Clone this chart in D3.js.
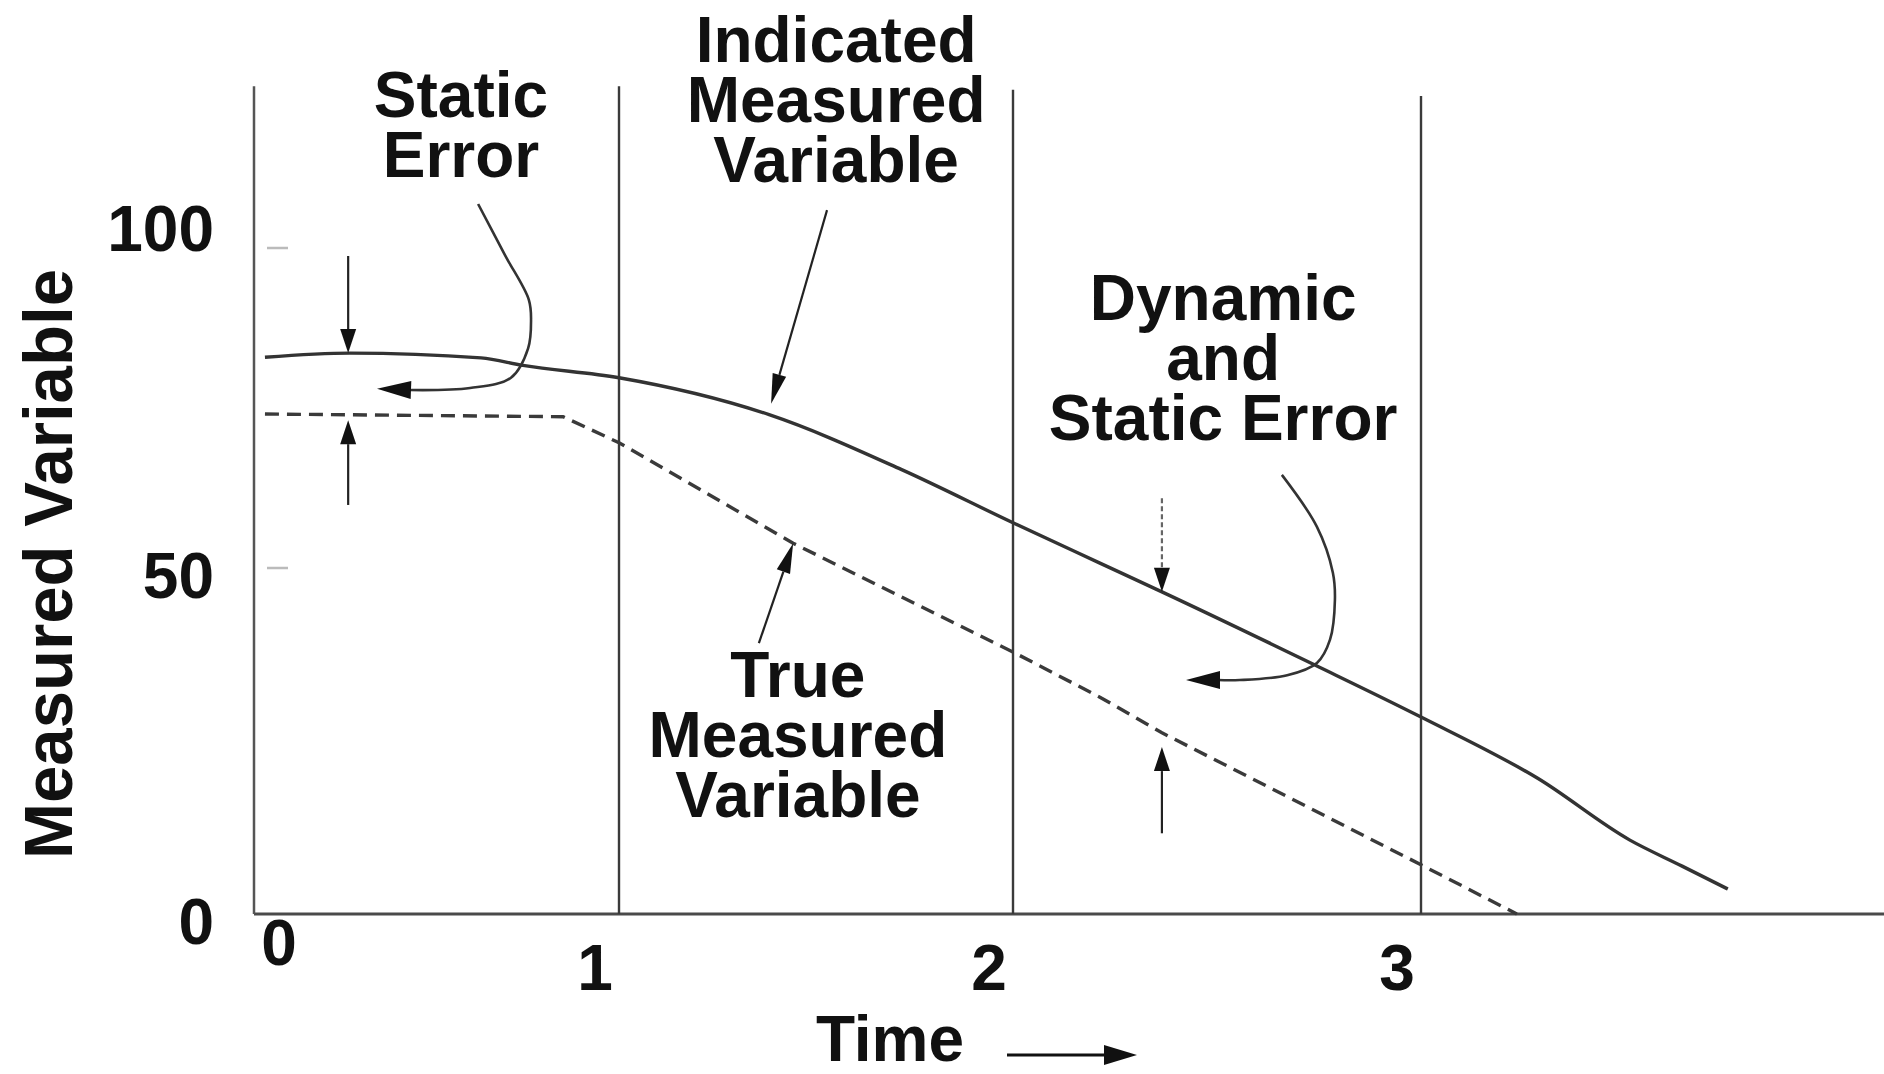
<!DOCTYPE html>
<html><head><meta charset="utf-8">
<script src="https://cdn.jsdelivr.net/npm/d3@7"></script>
<style>
html,body{margin:0;padding:0;background:#fff;}
svg{display:block;}
text{font-family:"Liberation Sans",Arial,Helvetica,sans-serif;font-weight:bold;fill:#111;}
</style>
</head><body><svg id="chart" width="1884" height="1074"></svg>
<script>
// ---------------- data ----------------
const timeTicks = [0, 1, 2, 3];
const timeTickLabels = ["0", "1", "2", "3"];
const valueTicks = [0, 50, 100];
const valueTickLabels = ["0", "50", "100"];
const gridTimes = [1, 2, 3];
const gridTops = [121, 120.5, 119.6];

const indicatedTime  = [0.03, 0.263, 0.622, 0.737, 1.0, 1.381, 1.716, 2.0, 2.213, 2.365, 2.74, 3.0, 3.287, 3.512, 3.64, 3.752];
const indicatedValue = [81.4, 82.0, 81.3, 80.2, 78.4, 73.0, 65.0, 57.2, 51.3, 47.1, 36.4, 28.8, 19.8, 10.8, 7.0, 3.65];

const trueTime  = [0.03, 0.847, 1.0, 1.442, 2.0, 2.213, 2.365, 3.0, 3.235];
const trueValue = [73.1, 72.7, 68.9, 54.2, 38.3, 31.7, 26.5, 7.2, 0];

// annotation arrows (time, value)
const staticErrorArrows  = [{t: 0.258, from: 96.2, to: 82.0}, {t: 0.258, from: 59.8, to: 72.2}];
const dynamicErrorArrows = [{t: 2.365, from: 60.8, to: 47.1, dotted: true}, {t: 2.365, from: 11.8, to: 24.4}];
const indicatedPointer = [[1.528, 102.9], [1.386, 74.6]];
const truePointer      = [[1.355, 39.6], [1.442, 54.2]];
const staticPointer  = [[0.614, 103.8], [0.688, 96.3], [0.753, 89.8], [0.759, 86.8], [0.751, 82.7], [0.704, 78.4], [0.592, 76.9], [0.427, 76.6]];
const staticTip      = [0.337, 76.8];
const dynamicPointer = [[2.659, 64.2], [2.745, 56.6], [2.784, 49.9], [2.789, 45.9], [2.777, 40.1], [2.745, 36.7], [2.672, 34.9], [2.556, 34.2], [2.502, 34.2]];
const dynamicTip     = [2.424, 34.2];

// text blocks (center time, first-baseline value)
const labelBlocks = [
  {lines: ["Static", "Error"], t: 0.567, v: 116.5},
  {lines: ["Indicated", "Measured", "Variable"], t: 1.551, v: 124.6},
  {lines: ["Dynamic", "and", "Static Error"], t: 2.515, v: 86.9},
  {lines: ["True", "Measured", "Variable"], t: 1.454, v: 31.7}
];
const xTitle = "Time";
const yTitle = "Measured Variable";

// ---------------- scales ----------------
const svg = d3.select("#chart");
svg.append("rect").attr("width", 1884).attr("height", 1074).attr("fill", "#fff");

const x = d3.scaleLinear().domain([0, 1, 2, 3]).range([254, 619, 1013, 1421]);
const y = d3.scaleLinear().domain([0, 100]).range([914, 230]);

// axes
svg.append("line").attr("x1", x(0)).attr("x2", 1884).attr("y1", y(0)).attr("y2", y(0))
  .attr("stroke", "#4a4a4a").attr("stroke-width", 3);
svg.append("line").attr("x1", x(0)).attr("x2", x(0)).attr("y1", y(0)).attr("y2", y(121))
  .attr("stroke", "#555").attr("stroke-width", 2.5);

// grid lines
svg.selectAll("line.grid").data(gridTimes).join("line").attr("class", "grid")
  .attr("x1", d => x(d)).attr("x2", d => x(d))
  .attr("y1", y(0)).attr("y2", (d, i) => y(gridTops[i]))
  .attr("stroke", "#3a3a3a").attr("stroke-width", 2.4);

// faint y ticks
svg.selectAll("line.ytick").data(valueTicks.filter(d => d > 0)).join("line").attr("class", "ytick")
  .attr("x1", x(0) + 13).attr("x2", x(0) + 34)
  .attr("y1", d => y(d) + (d === 100 ? 18 : -4)).attr("y2", d => y(d) + (d === 100 ? 18 : -4))
  .attr("stroke", "#bbb").attr("stroke-width", 2.5);

// tick labels
svg.selectAll("text.xtl").data(timeTicks).join("text").attr("class", "xtl")
  .attr("x", d => d === 0 ? x(d) + 25 : x(d) - 24)
  .attr("y", d => d === 0 ? y(0) + 51 : y(0) + 76)
  .attr("text-anchor", "middle").attr("font-size", 64)
  .text((d, i) => timeTickLabels[i]);

svg.selectAll("text.ytl").data(valueTicks).join("text").attr("class", "ytl")
  .attr("x", x(0) - 40).attr("y", d => y(d) + 30 - 0.09 * d)
  .attr("text-anchor", "end").attr("font-size", 64)
  .text((d, i) => valueTickLabels[i]);

// axis titles
svg.append("text").attr("x", 890).attr("y", 1061).attr("text-anchor", "middle")
  .attr("font-size", 64).text(xTitle);
svg.append("line").attr("x1", 1007).attr("x2", 1108).attr("y1", 1055).attr("y2", 1055)
  .attr("stroke", "#111").attr("stroke-width", 3);
svg.append("polygon").attr("points", "1137,1055 1104,1045 1104,1065").attr("fill", "#111");

svg.append("text").attr("transform", "translate(72,564) rotate(-90)")
  .attr("text-anchor", "middle").attr("font-size", 68)
  .attr("textLength", 590).attr("lengthAdjust", "spacingAndGlyphs")
  .text(yTitle);

// series
const indicatedData = indicatedTime.map((t, i) => [t, indicatedValue[i]]);
const trueData = trueTime.map((t, i) => [t, trueValue[i]]);

svg.append("path").datum(indicatedData)
  .attr("d", d3.line().x(d => x(d[0])).y(d => y(d[1])).curve(d3.curveMonotoneX))
  .attr("fill", "none").attr("stroke", "#333").attr("stroke-width", 3.4);
svg.append("path").datum(trueData)
  .attr("d", d3.line().x(d => x(d[0])).y(d => y(d[1])).curve(d3.curveLinear))
  .attr("fill", "none").attr("stroke", "#3a3a3a").attr("stroke-width", 3.4)
  .attr("stroke-dasharray", "14,8");

// arrow helpers
function head(tip, from, len, w) {
  const dx = tip[0] - from[0], dy = tip[1] - from[1];
  const L = Math.hypot(dx, dy), ux = dx / L, uy = dy / L;
  const bx = tip[0] - ux * len, by = tip[1] - uy * len;
  const nx = -uy * w / 2, ny = ux * w / 2;
  svg.append("polygon")
    .attr("points", [[tip[0], tip[1]], [bx + nx, by + ny], [bx - nx, by - ny]].map(p => p.join(",")).join(" "))
    .attr("fill", "#111");
  return [bx, by];
}
function straightArrow(a, b, len, w, dash) {
  const p0 = [x(a[0]), y(a[1])], p1 = [x(b[0]), y(b[1])];
  const base = head(p1, p0, len, w);
  svg.append("line").attr("x1", p0[0]).attr("y1", p0[1]).attr("x2", base[0]).attr("y2", base[1])
    .attr("stroke", dash ? "#666" : "#222").attr("stroke-width", 2.2)
    .attr("stroke-dasharray", dash ? "5,3" : null);
}

staticErrorArrows.concat(dynamicErrorArrows).forEach(a =>
  straightArrow([a.t, a.from], [a.t, a.to], 24, 16, a.dotted));
straightArrow(indicatedPointer[0], indicatedPointer[1], 30, 14);
straightArrow(truePointer[0], truePointer[1], 30, 14);

function curvedArrow(pts, tip) {
  const cl = d3.line().x(d => x(d[0])).y(d => y(d[1])).curve(d3.curveCatmullRom.alpha(0.5));
  svg.append("path").datum(pts).attr("d", cl).attr("fill", "none")
    .attr("stroke", "#333").attr("stroke-width", 2.6);
  const last = pts[pts.length - 1];
  head([x(tip[0]), y(tip[1])], [x(last[0]) + 5, y(last[1])], 34, 18);
}
curvedArrow(staticPointer, staticTip);
curvedArrow(dynamicPointer, dynamicTip);

// text blocks
labelBlocks.forEach(b => {
  const t = svg.append("text").attr("text-anchor", "middle").attr("font-size", 64);
  b.lines.forEach((s, i) => {
    t.append("tspan").attr("x", x(b.t)).attr("y", y(b.v) + i * 60).text(s);
  });
});
</script>
</body></html>
